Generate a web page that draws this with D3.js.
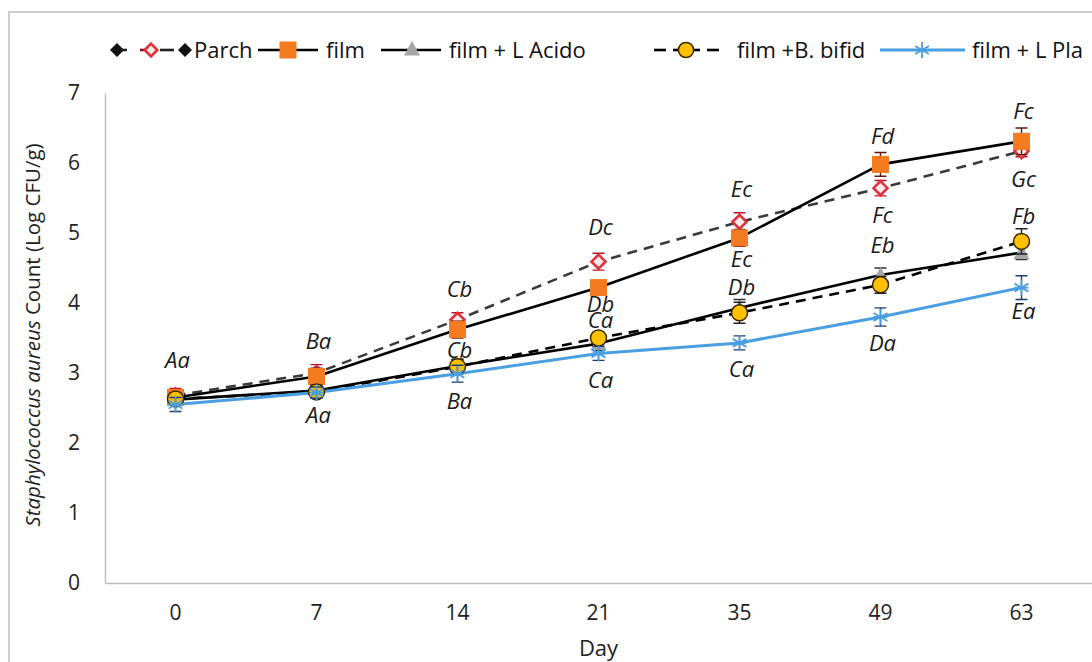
<!DOCTYPE html>
<html>
<head>
<meta charset="utf-8">
<script src="https://cdn.jsdelivr.net/npm/d3@7"></script>
<style>
  html, body { margin: 0; padding: 0; background: #fff; }
  svg { display: block; font-family: "Open Sans", Lato, sans-serif; }
</style>
</head>
<body>
<svg id="chart" width="1092" height="662"></svg>
<script>
// Sampling days (categorical axis)
const days = ["0", "7", "14", "21", "35", "49", "63"];
const yTicks = [0, 1, 2, 3, 4, 5, 6, 7];

// Series names as shown in the legend
const seriesNames = ["Parch", "film", "film + L Acido", "film +B. bifid", "film + L Pla"];

// Mean S. aureus counts (log CFU/g) per day
const parch = [2.68, 3.00, 3.76, 4.59, 5.16, 5.64, 6.17];
const film  = [2.65, 2.95, 3.62, 4.22, 4.93, 5.98, 6.31];
const acido = [2.62, 2.75, 3.10, 3.42, 3.93, 4.40, 4.72];
const bifid = [2.63, 2.73, 3.09, 3.50, 3.86, 4.26, 4.88];
const pla   = [2.55, 2.72, 2.99, 3.28, 3.43, 3.80, 4.22];

// Standard deviations
const parchErr = [0.10, 0.12, 0.10, 0.12, 0.13, 0.11, 0.08];
const filmErr  = [0.08, 0.12, 0.12, 0.10, 0.12, 0.17, 0.19];
const acidoErr = [0.08, 0.08, 0.10, 0.10, 0.12, 0.10, 0.10];
const bifidErr = [0.08, 0.08, 0.10, 0.08, 0.15, 0.12, 0.18];
const plaErr   = [0.10, 0.08, 0.12, 0.10, 0.10, 0.13, 0.17];

// Significance letters, anchored in value space at each day
const sigDays   = ["0", "7", "7", "14", "14", "14", "21", "21", "21", "21", "35", "35", "35", "35", "49", "49", "49", "49", "63", "63", "63", "63"];
const sigText   = ["Aa", "Ba", "Aa", "Cb", "Cb", "Ba", "Dc", "Db", "Ca", "Ca", "Ec", "Ec", "Db", "Ca", "Fd", "Fc", "Eb", "Da", "Fc", "Gc", "Fb", "Ea"];
const sigAnchor = [3.18, 3.46, 2.40, 4.19, 3.33, 2.59, 5.08, 3.98, 3.76, 2.90, 5.62, 4.63, 4.22, 3.05, 6.38, 5.26, 4.82, 3.42, 6.74, 5.77, 5.24, 3.88];

const svg = d3.select("#chart");
const W = 1092, H = 662;
const plot = { left: 105, right: 1092, top: 93, bottom: 583 };

// Outer chart frame
svg.append("rect")
  .attr("x", 9).attr("y", 12)
  .attr("width", W + 20).attr("height", H + 20)
  .attr("fill", "#fff").attr("stroke", "#bfbfbf").attr("stroke-width", 1.5);

const x = d3.scaleBand().domain(days).range([plot.left, plot.right]).padding(0);
const y = d3.scaleLinear().domain([0, 7]).range([plot.bottom, plot.top]);
const cx = d => x(d) + x.bandwidth() / 2;

// Axes
const yAxis = svg.append("g")
  .attr("transform", `translate(${plot.left},0)`)
  .call(d3.axisLeft(y).tickValues(yTicks).tickFormat(d3.format("d")).tickSize(0).tickPadding(25));
yAxis.select(".domain").attr("stroke", "#bfbfbf").attr("stroke-width", 1.5);
yAxis.selectAll("text").attr("font-size", 21).attr("fill", "#222").attr("font-family", "'Open Sans', sans-serif");

const xAxis = svg.append("g")
  .attr("transform", `translate(0,${plot.bottom})`)
  .call(d3.axisBottom(x).tickSize(0).tickPadding(22));
xAxis.select(".domain").attr("stroke", "#bfbfbf").attr("stroke-width", 1.5);
xAxis.selectAll("text").attr("font-size", 21).attr("fill", "#222").attr("font-family", "'Open Sans', sans-serif");

// Axis titles
svg.append("text")
  .attr("x", cx("21")).attr("y", 656)
  .attr("text-anchor", "middle").attr("font-size", 22).attr("fill", "#222")
  .text("Day");

const yTitle = svg.append("text")
  .attr("transform", `translate(40,${(plot.top + plot.bottom) / 2 - 3}) rotate(-90)`)
  .attr("text-anchor", "middle").attr("font-size", 20.5).attr("fill", "#222");
yTitle.append("tspan").attr("font-style", "italic").text("Staphylococcus aureus");
yTitle.append("tspan").text(" Count (Log CFU/g)");

// Series styling
const series = [
  { name: seriesNames[0], values: parch, err: parchErr, line: "#3a3a3a", width: 2.6, dash: "10,7", marker: "diamond", fill: "#fde9e9", stroke: "#e0303a", errColor: "#c0102a" },
  { name: seriesNames[1], values: film,  err: filmErr,  line: "#000", width: 2.6, dash: null, marker: "square", fill: "#f47b20", stroke: "#f47b20", errColor: "#5a1a10" },
  { name: seriesNames[2], values: acido, err: acidoErr, line: "#000", width: 2.6, dash: null, marker: "triangle", fill: "#a6a6a6", stroke: "#a6a6a6", errColor: "#333" },
  { name: seriesNames[3], values: bifid, err: bifidErr, line: "#000", width: 2.6, dash: "10,7", marker: "circle", fill: "#ffc000", stroke: "#3a2a00", errColor: "#222" },
  { name: seriesNames[4], values: pla,   err: plaErr,   line: "#4a9ee2", width: 3, dash: null, marker: "asterisk", fill: "none", stroke: "#4a9ee2", errColor: "#1f3a70" }
];

function drawMarker(g, kind, s, px, py, scale = 1) {
  if (kind === "diamond") {
    const r = 7 * scale;
    g.append("path")
      .attr("d", `M${px},${py - r}L${px + r},${py}L${px},${py + r}L${px - r},${py}Z`)
      .attr("fill", s.fill).attr("stroke", s.stroke).attr("stroke-width", 2.6);
  } else if (kind === "solidDiamond") {
    const r = 7 * scale;
    g.append("path")
      .attr("d", `M${px},${py - r}L${px + r},${py}L${px},${py + r}L${px - r},${py}Z`)
      .attr("fill", "#111");
  } else if (kind === "square") {
    const h = 8 * scale;
    g.append("rect").attr("x", px - h).attr("y", py - h).attr("width", 2 * h).attr("height", 2 * h)
      .attr("fill", s.fill).attr("stroke", s.stroke);
  } else if (kind === "triangle") {
    const r = 8 * scale;
    g.append("path")
      .attr("d", `M${px},${py - r}L${px + r},${py + r * 0.8}L${px - r},${py + r * 0.8}Z`)
      .attr("fill", s.fill);
  } else if (kind === "circle") {
    g.append("circle").attr("cx", px).attr("cy", py).attr("r", 8 * scale)
      .attr("fill", s.fill).attr("stroke", s.stroke).attr("stroke-width", 1.5);
  } else if (kind === "asterisk") {
    const r = 8 * scale;
    const d = [0, 60, 120].map(a => {
      const t = a * Math.PI / 180;
      return `M${px - r * Math.sin(t)},${py - r * Math.cos(t)}L${px + r * Math.sin(t)},${py + r * Math.cos(t)}`;
    }).join("") + `M${px - r * 0.85},${py}L${px + r * 0.85},${py}`;
    g.append("path").attr("d", d).attr("stroke", s.stroke).attr("stroke-width", 1.8).attr("fill", "none");
  }
}

const lineGen = d3.line().x((d, i) => cx(days[i])).y(d => y(d));
const plotG = svg.append("g");

// Lines first, then error bars and markers per series in drawing order
series.forEach(s => {
  plotG.append("path")
    .datum(s.values)
    .attr("d", lineGen)
    .attr("fill", "none")
    .attr("stroke", s.line)
    .attr("stroke-width", s.width)
    .attr("stroke-dasharray", s.dash)
    .attr("stroke-linejoin", "round");
});

series.forEach(s => {
  const g = plotG.append("g");
  s.values.forEach((v, i) => {
    const px = cx(days[i]);
    const y0 = y(v - s.err[i]), y1 = y(v + s.err[i]);
    g.append("path")
      .attr("d", `M${px},${y0}L${px},${y1}M${px - 6},${y0}L${px + 6},${y0}M${px - 6},${y1}L${px + 6},${y1}`)
      .attr("stroke", s.errColor).attr("stroke-width", 1.4).attr("fill", "none");
  });
  s.values.forEach((v, i) => drawMarker(g, s.marker, s, cx(days[i]), y(v)));
});

// Significance letters
svg.append("g").selectAll("text")
  .data(sigText)
  .join("text")
  .attr("x", (d, i) => cx(sigDays[i]) + 2)
  .attr("y", (d, i) => y(sigAnchor[i]))
  .attr("dy", "0.35em")
  .attr("text-anchor", "middle")
  .attr("font-size", 22)
  .attr("font-style", "italic")
  .attr("fill", "#1a1a1a")
  .text(d => d);

// Legend
const leg = svg.append("g").attr("font-size", 22).attr("fill", "#111");
const ly = 50;
// Parch entry
drawMarker(leg, "solidDiamond", series[0], 117, ly, 1);
leg.append("line").attr("x1", 121).attr("x2", 127).attr("y1", ly).attr("y2", ly).attr("stroke", "#222").attr("stroke-width", 2.6);
leg.append("line").attr("x1", 140).attr("x2", 146).attr("y1", ly).attr("y2", ly).attr("stroke", "#8a1020").attr("stroke-width", 2.6);
drawMarker(leg, "diamond", series[0], 151, ly, 0.9);
leg.append("line").attr("x1", 160).attr("x2", 174).attr("y1", ly).attr("y2", ly).attr("stroke", "#222").attr("stroke-width", 2.6);
drawMarker(leg, "solidDiamond", series[0], 185, ly, 1);
leg.append("text").attr("x", 194).attr("y", ly).attr("dy", "0.35em").text(seriesNames[0]);
// film
leg.append("line").attr("x1", 258).attr("x2", 318).attr("y1", ly).attr("y2", ly).attr("stroke", "#000").attr("stroke-width", 2.6);
drawMarker(leg, "square", series[1], 288, ly, 1);
leg.append("text").attr("x", 326).attr("y", ly).attr("dy", "0.35em").text(seriesNames[1]);
// film + L Acido
leg.append("line").attr("x1", 381).attr("x2", 441).attr("y1", ly).attr("y2", ly).attr("stroke", "#000").attr("stroke-width", 2.6);
drawMarker(leg, "triangle", series[2], 412, ly - 1, 1);
leg.append("text").attr("x", 449).attr("y", ly).attr("dy", "0.35em").text(seriesNames[2]);
// film +B. bifid
leg.append("line").attr("x1", 654).attr("x2", 666).attr("y1", ly).attr("y2", ly).attr("stroke", "#000").attr("stroke-width", 2.6);
leg.append("line").attr("x1", 673).attr("x2", 700).attr("y1", ly).attr("y2", ly).attr("stroke", "#000").attr("stroke-width", 2.6);
leg.append("line").attr("x1", 707).attr("x2", 719).attr("y1", ly).attr("y2", ly).attr("stroke", "#000").attr("stroke-width", 2.6);
drawMarker(leg, "circle", series[3], 686, ly, 0.95);
leg.append("text").attr("x", 737).attr("y", ly).attr("dy", "0.35em").text(seriesNames[3]);
// film + L Pla
leg.append("line").attr("x1", 880).attr("x2", 965).attr("y1", ly).attr("y2", ly).attr("stroke", "#4a9ee2").attr("stroke-width", 3);
drawMarker(leg, "asterisk", series[4], 922, ly, 1);
leg.append("text").attr("x", 972).attr("y", ly).attr("dy", "0.35em").text(seriesNames[4]);
</script>
</body>
</html>
